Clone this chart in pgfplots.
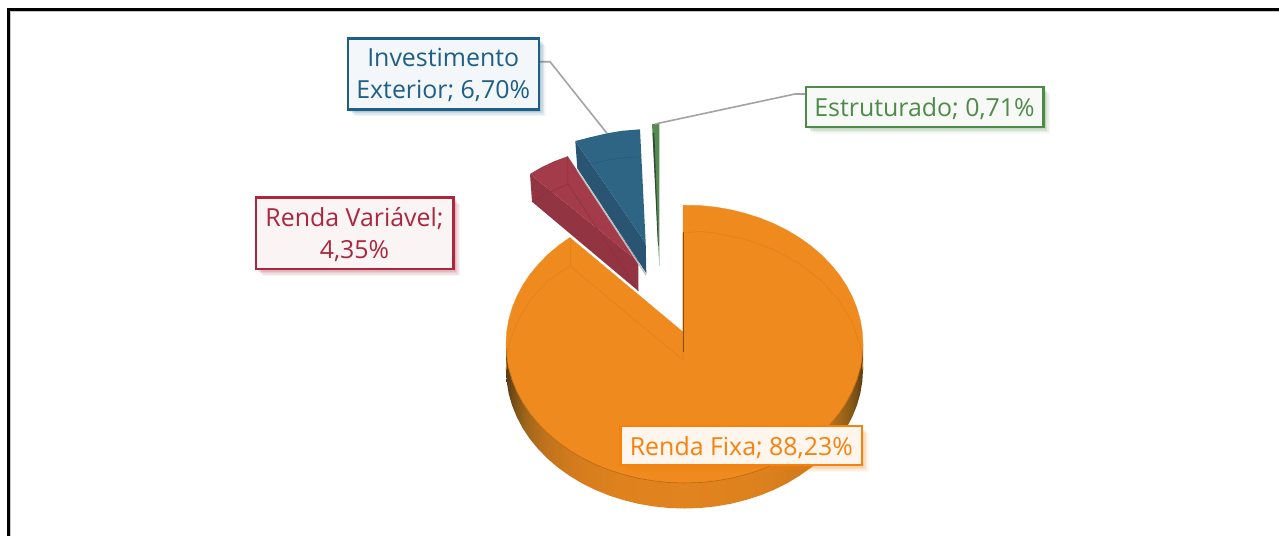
\documentclass[border=0pt]{standalone}
\usepackage{fontspec}
\setmainfont{Open Sans}
\usepackage{pgfplots}
\pgfplotsset{compat=1.18}
\usetikzlibrary{shadows}
\definecolor{sa}{HTML}{5A3C12}\definecolor{sb}{HTML}{784E16}\definecolor{sc}{HTML}{A0661A}
\definecolor{sd}{HTML}{C0731C}\definecolor{se}{HTML}{D47C1D}\definecolor{sf}{HTML}{DF821E}
\definecolor{sg}{HTML}{E1841F}\definecolor{sh}{HTML}{DD811E}\definecolor{si}{HTML}{CE7A1C}
\definecolor{sj}{HTML}{B06D1A}\definecolor{sk}{HTML}{8A5B17}\definecolor{sl}{HTML}{5C3E12}
\pgfdeclarehorizontalshading{sideshade}{100bp}{color(0bp)=(sa); color(25bp)=(sa); color(26.1bp)=(sb); color(27.7bp)=(sc); color(30.5bp)=(sd); color(34.7bp)=(se); color(41bp)=(sf); color(50.5bp)=(sg); color(60.6bp)=(sh); color(67.6bp)=(si); color(71bp)=(sj); color(73.2bp)=(sk); color(75bp)=(sl); color(100bp)=(sl)}
\definecolor{otop}{HTML}{EE8A1E}\definecolor{oline}{HTML}{E2831C}
\definecolor{rtop}{HTML}{A33B4A}\definecolor{rside}{HTML}{933443}\definecolor{rline}{HTML}{8C2F3E}
\definecolor{btop}{HTML}{2E6585}\definecolor{bside}{HTML}{295572}\definecolor{bline}{HTML}{295A78}
\definecolor{gtop}{HTML}{558B50}\definecolor{gside}{HTML}{34483A}
\definecolor{lo}{HTML}{F5820F}\definecolor{lr}{HTML}{A9283E}\definecolor{lb}{HTML}{1F5F85}\definecolor{lg}{HTML}{4F8A4A}
\tikzset{lab/.style={draw=#1,line width=2.4pt,inner sep=0pt,
  general shadow={fill=#1,opacity=.05,shadow xshift=7pt,shadow yshift=-7pt},
  general shadow={fill=#1,opacity=.09,shadow xshift=5.5pt,shadow yshift=-5.5pt},
  general shadow={fill=#1,opacity=.12,shadow xshift=4pt,shadow yshift=-4pt},
  general shadow={fill=#1,opacity=.12,shadow xshift=2.5pt,shadow yshift=-2.5pt}},
  txt/.style={text=#1,align=center,inner sep=0pt,font=\fontsize{24.9}{32}\selectfont}}
\begin{document}
\begin{tikzpicture}
\begin{axis}[width=1279pt,height=536pt,scale only axis,xmin=0,xmax=1279,ymin=0,ymax=536,y dir=reverse,hide axis,clip=true]
% page
\addplot[fill=white,draw=none] coordinates {(0,0) (1279,0) (1279,536) (0,536)} --cycle;
% frame
\addplot[draw=black,line width=3pt] coordinates {(8.5,536) (8.5,9.5) (1279,9.5)};
\addplot[draw=black!22,line width=1.2pt] coordinates {(10.6,536) (10.6,11.6) (1279,11.6)};
% orange side
\addplot[shading=sideshade,draw=none] coordinates {(506,344) (506,369.5) (506.7,381.6) (508.7,393.6) (512.1,405.5) (516.8,417) (522.7,428.2) (529.9,439) (538.3,449.2) (547.8,458.9) (558.3,467.8) (569.8,476) (582.1,483.4) (595.3,489.9) (609.1,495.5) (623.5,500.1) (638.3,503.8) (653.5,506.4) (668.9,508) (684.5,508.5) (700.1,508) (715.5,506.4) (730.7,503.8) (745.5,500.1) (759.9,495.5) (773.8,489.9) (786.9,483.4) (799.2,476) (810.7,467.8) (821.2,458.9) (830.7,449.2) (839.1,439) (846.3,428.2) (852.2,417) (856.9,405.5) (860.3,393.6) (862.3,381.6) (863,369.5) (863,344)} --cycle;
% orange top
\addplot[fill=otop,draw=otop,line width=.3pt] coordinates {(683,332) (683,205.2) (700.1,205.5) (715.5,207.1) (730.7,209.7) (745.5,213.4) (759.9,218) (773.8,223.6) (786.9,230.1) (799.2,237.5) (810.7,245.7) (821.2,254.6) (830.7,264.3) (839.1,274.5) (846.3,285.3) (852.2,296.5) (856.9,308) (860.3,319.9) (862.3,331.9) (863,344) (862.3,356.1) (860.3,368.1) (856.9,380) (852.2,391.5) (846.3,402.7) (839.1,413.5) (830.7,423.7) (821.2,433.4) (810.7,442.3) (799.2,450.5) (786.9,457.9) (773.8,464.4) (759.9,470) (745.5,474.6) (730.7,478.3) (715.5,480.9) (700.1,482.5) (684.5,483) (668.9,482.5) (653.5,480.9) (638.3,478.3) (623.5,474.6) (609.1,470) (595.3,464.4) (582.1,457.9) (569.8,450.5) (558.3,442.3) (547.8,433.4) (538.3,423.7) (529.9,413.5) (522.7,402.7) (516.8,391.5) (512.1,380) (508.7,368.1) (506.7,356.1) (506,344) (506.7,331.9) (508.7,319.9) (512.1,308) (516.8,296.5) (522.7,285.3) (529.9,274.5) (538.3,264.3) (547.8,254.6) (558.3,245.7) (569.8,237.5)} --cycle;
\addplot[draw=oline!80!black,line width=.6pt] coordinates {(860.3,368.1) (856.9,380) (852.2,391.5) (846.3,402.7) (839.1,413.5) (830.7,423.7) (821.2,433.4) (810.7,442.3) (799.2,450.5) (786.9,457.9) (773.8,464.4) (759.9,470) (745.5,474.6) (730.7,478.3) (715.5,480.9) (700.1,482.5) (684.5,483) (668.9,482.5) (653.5,480.9) (638.3,478.3) (623.5,474.6) (609.1,470) (595.3,464.4) (582.1,457.9) (569.8,450.5) (558.3,442.3) (547.8,433.4) (538.3,423.7) (529.9,413.5) (522.7,402.7) (516.8,391.5) (512.1,380) (508.7,368.1)};
\addplot[draw=oline,line width=.7pt] coordinates {(683,233) (700.1,231.5) (715.5,233) (745.5,239.4) (773.8,249.6) (799.2,263.5) (821.2,280.6) (839.1,300.5) (852.2,322.5) (860.3,345.9) (863,370)};
\addplot[draw=oline,line width=.7pt] coordinates {(683,233) (683,360) (570,266) (547.8,280.6) (529.9,300.5) (516.8,322.5) (508.7,345.9) (506,370)};
\addplot[draw=oline,line width=.7pt] coordinates {(570,238) (570,266)};
\addplot[draw=black!45!otop,line width=.6pt] coordinates {(682.8,232) (682.8,352)};
% red
\addplot[fill=rside,draw=none] coordinates {(530,174) (638.3,261.7) (638.3,291) (532,201.7)} --cycle;
\addplot[fill=rtop,draw=none] coordinates {(530,174) (541,167.5) (554,161.3) (567.7,156.3) (638.3,261.7)} --cycle;
\addplot[draw=rline,line width=.5pt] coordinates {(532,201.7) (550,192) (568,184) (638.3,291)};
\addplot[draw=rline,line width=.5pt] coordinates {(567.7,156.3) (568,184)};
% blue
\addplot[draw=white!75!black,line width=1.2pt] coordinates {(577,170) (646,275)};
\addplot[fill=bside,draw=none] coordinates {(575.3,141) (645.7,243.3) (646.3,273.3) (577.3,168.3)} --cycle;
\addplot[fill=btop,draw=none] coordinates {(575.3,141) (590,137.3) (606,133.5) (622,130.8) (640,129.3) (645.7,243.3)} --cycle;
\addplot[draw=bline,line width=.6pt] coordinates {(577.3,168.3) (592,163.5) (608,160) (624,157.8) (641,156.7)};
% green
\addplot[fill=gtop,draw=none] coordinates {(652,124) (659.3,124) (659.3,266.7)} --cycle;
\addplot[fill=gside,draw=none] coordinates {(652.6,133) (654.3,133) (658.6,245) (657.9,245)} --cycle;
% leaders
\addplot[draw=black!36,line width=1.6pt] coordinates {(539,61.7) (550,61.7) (606.7,133)};
\addplot[draw=black!36,line width=1.6pt] coordinates {(805,94) (795,94) (655,124)};
% labels
\node[lab=lb,fill=white!95!lb,minimum width=191pt,minimum height=71pt] at (axis cs:443.2,73.8) {};
\node[txt=lb] at (axis cs:443.2,75.4) {Investimento\\Exterior; 6,70\%};
\node[lab=lr,fill=white!95!lr,minimum width=197.6pt,minimum height=71.7pt] at (axis cs:354.5,233.2) {};
\node[txt=lr] at (axis cs:354.5,234.8) {Renda Variável;\\4,35\%};
\node[lab=lg,fill=white!95!lg,minimum width=237.6pt,minimum height=40pt] at (axis cs:924.5,106.7) {};
\node[txt=lg] at (axis cs:924.5,108.5) {Estruturado; 0,71\%};
\node[lab=lo,fill=white!92!lo,minimum width=241.3pt,minimum height=39pt] at (axis cs:741.3,445.5) {};
\node[txt=lo] at (axis cs:741.3,447.3) {Renda Fixa; 88,23\%};
\end{axis}
\end{tikzpicture}
\end{document}
